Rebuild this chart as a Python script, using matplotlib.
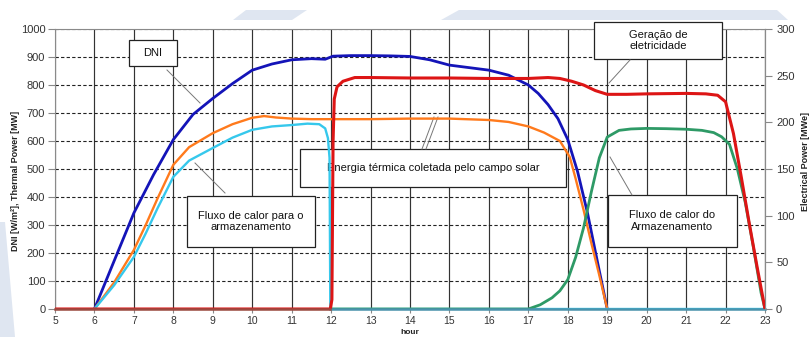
import numpy as np
import matplotlib
matplotlib.use("Agg")
import matplotlib.pyplot as plt
from matplotlib.patches import Rectangle, Polygon

plt.rcParams['font.family'] = ['Liberation Sans', 'DejaVu Sans']

# hours and values
h_dni = [6.0, 6.5, 7.0, 7.5, 8.0, 8.5, 9.0, 9.5, 10.0, 10.5, 11.0, 11.5, 11.85, 12.05,
         12.5, 13.0, 13.5, 14.0, 14.5, 15.0, 15.5, 16.0, 16.5, 17.0, 17.25, 17.5,
         17.75, 18.0, 18.25, 18.5, 18.75, 19.0]
dni = [0, 172, 343, 480, 605, 695, 752, 805, 853, 875, 890, 894, 892, 903,
       905, 905, 904, 902, 890, 871, 862, 853, 835, 800, 770, 730,
       680, 605, 490, 343, 170, 0]

h_col = [6.0, 6.5, 7.0, 7.3, 7.6, 8.0, 8.4, 9.0, 9.5, 10.0, 10.3, 10.6, 11.0, 11.5,
         12.0, 13.0, 14.0, 15.0, 16.0, 16.5, 17.0, 17.4, 17.8, 18.05, 18.2, 18.4,
         18.6, 18.8, 19.0]
collected = [0, 95, 211, 300, 395, 515, 578, 628, 660, 683, 689, 684, 680, 678,
             678, 678, 680, 680, 675, 668, 652, 630, 600, 543, 465, 354,
             234, 120, 0]

h_to_store = [6.0, 6.5, 7.0, 7.3, 7.6, 8.0, 8.4, 9.0, 9.5, 10.0, 10.5, 11.0, 11.4,
              11.7, 11.85, 11.92, 11.96, 11.98, 12.5, 23.0]
to_store = [0, 85, 186, 270, 360, 472, 530, 575, 612, 640, 652, 657, 662,
            660, 645, 610, 540, 0, 0, 0]

h_from_store = [12.0, 17.0, 17.3, 17.6, 17.8, 18.0, 18.2, 18.4, 18.6, 18.8, 19.0, 19.3,
                19.6, 20.0, 20.5, 21.0, 21.4, 21.7, 21.9, 22.1, 22.3, 22.5, 22.7,
                22.9, 23.0]
from_store = [0, 0, 15, 40, 65, 105, 185, 290, 420, 540, 614, 638,
              643, 645, 644, 642, 638, 630, 615, 588, 500, 380, 225,
              58, 0]

# electrical power, right axis [MWe]
h_elec = [5.0, 11.98, 12.02, 12.05, 12.08, 12.15, 12.3, 12.6, 13.0, 14.0, 15.0, 16.0,
          17.0, 17.5, 17.8, 18.1, 18.4, 18.7, 19.0, 19.5, 20.0, 21.0, 21.5, 21.8,
          22.0, 22.2, 22.4, 22.6, 22.8, 23.0]
elec = [0, 0, 10, 180, 225, 238, 244, 248, 248, 247.5, 247.5, 247,
        247, 248, 247, 244, 240, 234, 230, 230, 230.5, 231, 230.5, 229,
        222, 188, 141, 92, 45, 0]

x_ticks = list(range(5, 24))
left_ticks = list(range(0, 1001, 100))
right_ticks = list(range(0, 301, 50))

fig = plt.figure(figsize=(8.11, 3.37), dpi=100)
W, H = 811.0, 337.0

# light decoration shapes behind the chart
deco = '#dfe6f1'
for pts in ([(233, 20), (246, 10), (307, 10), (292, 20)],
            [(441, 20), (459, 10), (777, 10), (788, 20)],
            [(0, 222), (5, 222), (15, 337), (0, 337)]):
    fig.patches.append(Polygon([(x / W, 1 - y / H) for x, y in pts], closed=True,
                               transform=fig.transFigure, color=deco, lw=0, zorder=0))

ax = fig.add_axes([55 / W, 28 / H, 710 / W, 280 / H])
ax.set_xlim(5, 23)
ax.set_ylim(0, 1000)
ax.set_xticks(x_ticks)
ax.set_yticks(left_ticks)
ax.set_axisbelow(True)
ax.xaxis.grid(True, color='#333333', lw=0.85)
ax.yaxis.grid(True, color='#222222', lw=0.8, ls=(0, (3, 2)))
for s in ax.spines.values():
    s.set_color('#8a8a8a')
    s.set_linewidth(0.8)
    s.set_zorder(2.4)
ax.tick_params(direction='out', length=5, width=0.8, color='#888888',
               labelcolor='#333333', labelsize=8, pad=2)
ax.tick_params(axis='x', length=3, pad=2, labelsize=7.5)

ax2 = ax.twinx()
ax2.set_ylim(0, 300)
ax2.set_yticks(right_ticks)
for name, s in ax2.spines.items():
    s.set_color('#8a8a8a')
    s.set_linewidth(0.8)
    s.set_visible(name == 'right')
ax2.tick_params(direction='out', length=5, width=0.8, color='#888888',
                labelcolor='#333333', labelsize=8, pad=3)

# curves
ax.plot(h_dni, dni, color='#1414b8', lw=2.0, zorder=4)
ax.plot(h_col, collected, color='#ff7a1c', lw=1.7, zorder=4)
ax.plot(h_to_store, to_store, color='#36c8ec', lw=1.7, zorder=4)
ax.plot(h_from_store, from_store, color='#2e9a66', lw=2.0, zorder=4)
ts = np.array(to_store, float)
ax.plot(h_to_store, np.where(ts == 0, ts, np.nan), color='#4a93ad', lw=1.8, zorder=5,
        clip_on=False)
ax2.plot(h_elec, elec, color='#dd1515', lw=2.2, zorder=4)
ev = np.array(elec, float)
ax2.plot(h_elec, np.where(ev == 0, ev, np.nan), color='#9c4a40', lw=1.8, zorder=5,
         clip_on=False)


def to_data(px, py):
    return 5 + (px - 55) / 710 * 18, (309 - py) / 280 * 1000


def label_box(x0, y0, x1, y1, text, leaders):
    a = to_data(x0, y1)
    b = to_data(x1, y0)
    ax.add_patch(Rectangle(a, b[0] - a[0], b[1] - a[1], facecolor='white',
                           edgecolor='#222222', lw=0.9, zorder=2.7, clip_on=False))
    c = to_data((x0 + x1) / 2, (y0 + y1) / 2)
    ax.text(c[0], c[1], text, ha='center', va='center', fontsize=8,
            color='#111111', zorder=2.8, linespacing=1.2, clip_on=False)
    for p, q in leaders:
        p, q = to_data(*p), to_data(*q)
        ax.plot([p[0], q[0]], [p[1], q[1]], color='#777777', lw=0.7, zorder=2.8)


label_box(129, 40, 177, 66, 'DNI', [((167, 70), (200, 103))])
label_box(594, 22, 722, 59, 'Geração de\neletricidade', [((630, 60), (609, 83))])
label_box(300, 149, 566, 187, 'Energia térmica coletada pelo campo solar',
          [((422, 149), (434, 117)), ((426, 149), (438, 117))])
label_box(187, 196, 315, 247, 'Fluxo de calor para o\narmazenamento',
          [((195, 163), (225, 193))])
label_box(608, 195, 737, 247, 'Fluxo de calor do\nArmazenamento',
          [((610, 157), (632, 195))])

fig.text(16 / W, 1 - 181 / H, 'DNI [W/m²], Thermal Power [MW]', rotation=90,
         ha='center', va='center', fontsize=6.5, fontweight='bold', color='#222222')
fig.text(805 / W, 1 - 162 / H, 'Electrical Power [MWe]', rotation=90,
         ha='center', va='center', fontsize=6.5, fontweight='bold', color='#222222')
fig.text(410 / W, 0.5 / H, 'hour', ha='center', va='bottom', fontsize=6,
         fontweight='bold', color='#222222')

fig.savefig('out.png', dpi=100)
